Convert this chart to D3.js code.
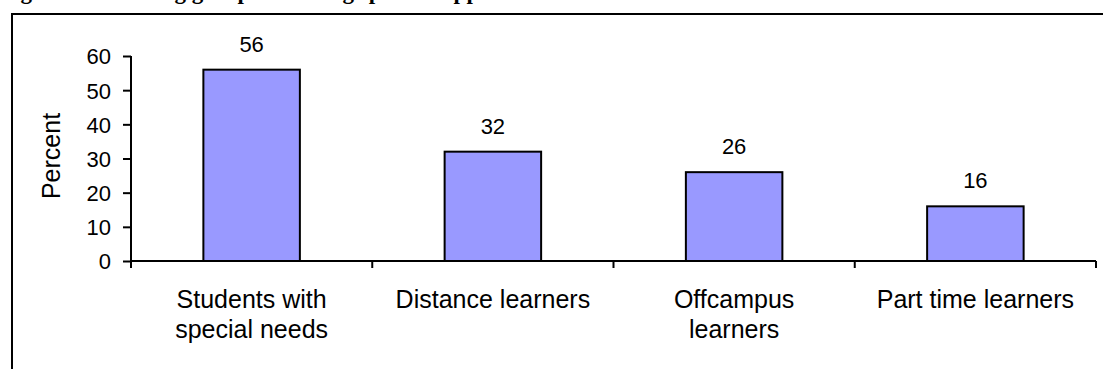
<!DOCTYPE html>
<html>
<head>
<meta charset="utf-8">
<script src="https://cdn.jsdelivr.net/npm/d3@7"></script>
<style>
  html, body { margin: 0; padding: 0; background: #fff; }
  svg { display: block; }
  text { font-family: "Liberation Sans", Arial, sans-serif; fill: #000; }
</style>
</head>
<body>
<svg id="chart" width="1103" height="369"></svg>
<script>
// Share of respondents offering special support, by learning group
const categories = [["Students with", "special needs"], ["Distance learners"], ["Offcampus", "learners"], ["Part time learners"]];
const values = [56, 32, 26, 16];
const yTicks = [0, 10, 20, 30, 40, 50, 60];
const yTitle = "Percent";
const figTitle = "Figure 3: Learning groups receiving special support";

const svg = d3.select("#chart");
const keys = categories.map(c => c.join(" "));

const x = d3.scaleBand().domain(keys).range([131, 1096]).paddingInner(0.6).paddingOuter(0.3);
const y = d3.scaleLinear().domain([0, 60]).range([261, 56]);

// caption line above the frame (runs off the top of the page)
svg.append("text")
  .attr("x", 0).attr("y", -1)
  .style("font-family", "'Liberation Serif', 'Times New Roman', serif")
  .style("font-weight", "bold").style("font-size", "23px")
  .text(figTitle);

// outer frame (top and left edges)
svg.append("path")
  .attr("d", "M12,369 V14 H1103")
  .attr("fill", "none").attr("stroke", "#000").attr("stroke-width", 2);

// bars
svg.append("g").selectAll("rect").data(values).join("rect")
  .attr("x", (d, i) => x(keys[i]))
  .attr("y", d => y(d))
  .attr("width", x.bandwidth())
  .attr("height", d => y(0) - y(d))
  .attr("fill", "#9999ff")
  .attr("stroke", "#000").attr("stroke-width", 2);

// value labels
svg.append("g").selectAll("text").data(values).join("text")
  .attr("x", (d, i) => x(keys[i]) + x.bandwidth() / 2)
  .attr("y", d => y(d) - 18)
  .attr("text-anchor", "middle")
  .style("font-size", "22px")
  .text(d => d);

// y axis
const yAxis = svg.append("g")
  .attr("transform", "translate(131,0)")
  .call(d3.axisLeft(y).tickValues(yTicks).tickSize(8).tickSizeOuter(0).tickPadding(12));
yAxis.select(".domain").attr("stroke-width", 2).attr("d", `M0,${y(60)}V${y(0) + 7}`);
yAxis.selectAll(".tick line").attr("stroke-width", 2);
yAxis.selectAll(".tick text").style("font-size", "22px").style("font-family", "'Liberation Sans', Arial, sans-serif").attr("dy", "0.36em");

// x axis: baseline with ticks at the category boundaries
const step = x.step();
const bounds = keys.map(k => x(k) - (step - x.bandwidth()) / 2).concat([x.range()[1]]);
const xAxis = svg.append("g");
xAxis.append("line")
  .attr("x1", x.range()[0]).attr("x2", x.range()[1])
  .attr("y1", y(0)).attr("y2", y(0))
  .attr("stroke", "#000").attr("stroke-width", 2);
xAxis.selectAll("line.tk").data(bounds.slice(1)).join("line")
  .attr("class", "tk")
  .attr("x1", d => d).attr("x2", d => d)
  .attr("y1", y(0)).attr("y2", y(0) + 7)
  .attr("stroke", "#000").attr("stroke-width", 2);

// category labels
const lab = xAxis.selectAll("text").data(categories).join("text")
  .attr("x", (d, i) => x(keys[i]) + x.bandwidth() / 2)
  .attr("y", 308)
  .attr("text-anchor", "middle")
  .style("font-size", "25px");
lab.selectAll("tspan").data(d => d).join("tspan")
  .attr("x", function () { return this.parentNode.getAttribute("x"); })
  .attr("dy", (d, i) => i === 0 ? 0 : 30)
  .text(d => d);

// y axis title
svg.append("text")
  .attr("transform", `translate(60,156) rotate(-90)`)
  .attr("text-anchor", "middle")
  .style("font-size", "25px")
  .text(yTitle);
</script>
</body>
</html>
